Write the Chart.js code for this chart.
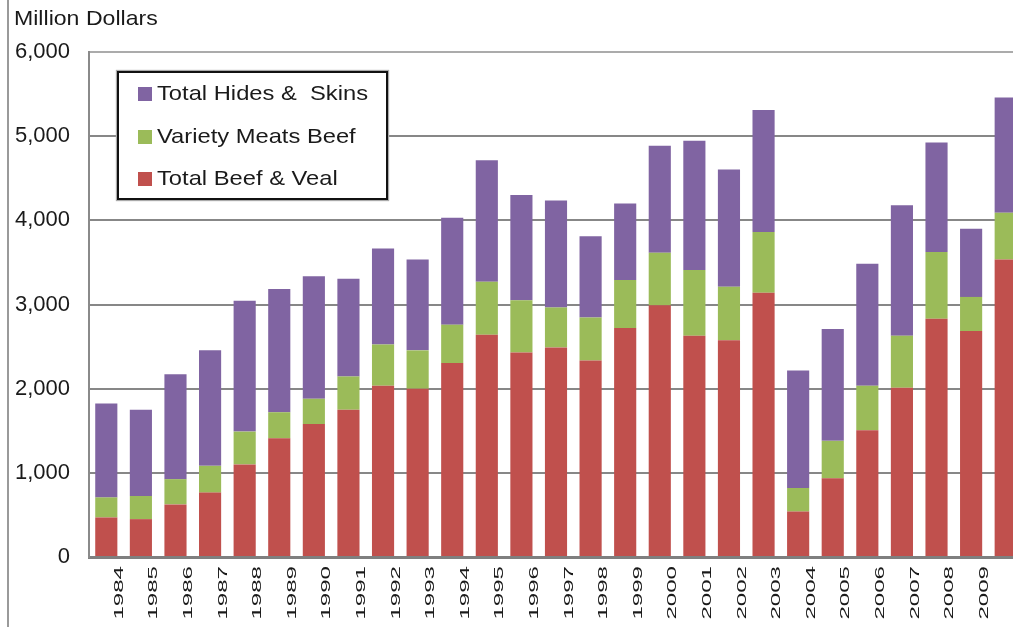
<!DOCTYPE html>
<html>
<head>
<meta charset="utf-8">
<script src="https://cdn.jsdelivr.net/npm/chart.js@4"></script>
<style>
  body { margin: 0; overflow: hidden; background: #fff; font-family: "Liberation Sans", Arial, sans-serif; }
  #wrap { position: absolute; left: 0; top: 0; width: 1035px; height: 627px; }
  #frame { position: absolute; left: 7px; top: 0; width: 2px; height: 627px; background: #9a9a9a; }
  #ytitle { position: absolute; left: 14px; top: 6px; font-size: 21px; color: #1a1a1a;
            transform: scaleX(1.1); transform-origin: left top; }
  #legend { position: absolute; left: 117px; top: 71px; width: 267px; height: 125px; background: #fff;
            border: 2px solid #111; box-shadow: 0 0 1px 1px #aaa; }
  .item { position: absolute; left: 19px; font-size: 21px; color: #1a1a1a; white-space: pre; line-height: 24px; }
  .item span.sw { display: inline-block; width: 14px; height: 14px; margin-right: 5px; vertical-align: -1px; }
  .item span.tx { display: inline-block; transform: scaleX(1.13); transform-origin: left center; }
</style>
</head>
<body>
<div id="wrap"><canvas id="myChart"></canvas></div>
<div id="frame"></div>
<div id="ytitle">Million Dollars</div>
<div id="legend"></div>
<script>
// 연도 (x축)
const years = ['1984','1985','1986','1987','1988','1989','1990','1991','1992','1993','1994','1995','1996',
               '1997','1998','1999','2000','2001','2002','2003','2004','2005','2006','2007','2008','2009','2010'];

// 시리즈 값 (Million Dollars)
const beefVeal = [470, 450, 625, 765, 1100, 1410, 1580, 1750, 2035, 2000, 2305, 2640, 2430,
                  2490, 2335, 2720, 2990, 2630, 2575, 3140, 540, 935, 1505, 2010, 2830, 2685, 3535];
const varietyMeats = [238, 275, 300, 318, 390, 310, 300, 395, 490, 455, 455, 630, 620,
                      475, 510, 570, 625, 780, 635, 720, 280, 445, 530, 620, 795, 405, 555];
const hidesSkins = [1115, 1025, 1245, 1373, 1555, 1465, 1455, 1160, 1140, 1080, 1270, 1445, 1250,
                    1270, 965, 910, 1270, 1535, 1395, 1450, 1395, 1330, 1450, 1550, 1300, 810, 1370];

const yTicks = [0, 1000, 2000, 3000, 4000, 5000, 6000];

const datasets = [
    { label: 'Total Beef & Veal', data: beefVeal, backgroundColor: '#C0504D' },
    { label: 'Variety Meats Beef', data: varietyMeats, backgroundColor: '#9BBB59' },
    { label: 'Total Hides &  Skins', data: hidesSkins, backgroundColor: '#8064A2' }
];

// 범례 (위에서부터 역순)
const legend = document.getElementById('legend');
datasets.slice().reverse().forEach(function(ds, i) {
    const div = document.createElement('div');
    div.className = 'item';
    div.style.top = (8 + i * 42.5) + 'px';
    div.innerHTML = '<span class="sw" style="background:' + ds.backgroundColor + '"></span>';
    const tx = document.createElement('span');
    tx.className = 'tx';
    tx.textContent = ds.label;
    div.appendChild(tx);
    legend.appendChild(div);
});

// 세로로 늘어난 x축 라벨
const stretchedTicks = {
    id: 'stretchedTicks',
    afterDraw: function(chart) {
        const ctx = chart.ctx;
        const xs = chart.scales.x;
        ctx.save();
        ctx.font = '13px "Liberation Sans", Arial';
        ctx.fillStyle = '#1a1a1a';
        chart.data.labels.forEach(function(lab, i) {
            ctx.save();
            ctx.translate(xs.getPixelForTick(i) + 13, chart.chartArea.bottom + 9);
            ctx.rotate(-Math.PI / 2);
            ctx.scale(1.85, 1);
            ctx.textAlign = 'right';
            ctx.textBaseline = 'middle';
            ctx.fillText(lab, 0, 0);
            ctx.restore();
        });
        ctx.restore();
    }
};

new Chart(document.getElementById('myChart'), {
    type: 'bar',
    data: { labels: years, datasets: datasets },
    plugins: [stretchedTicks],
    options: {
        responsive: true,
        maintainAspectRatio: false,
        animation: false,
        layout: { padding: { top: 52, right: 12, bottom: 70, left: 0 } },
        datasets: { bar: { categoryPercentage: 1, barPercentage: 0.64 } },
        plugins: { legend: { display: false }, tooltip: { enabled: false } },
        scales: {
            x: {
                stacked: true,
                grid: { display: false },
                border: { color: '#7f7f7f', width: 3 },
                ticks: { display: false },
                afterFit: function(s) { s.height = 0; }
            },
            y: {
                stacked: true,
                min: yTicks[0],
                max: yTicks[yTicks.length - 1],
                afterBuildTicks: function(s) { s.ticks = yTicks.map(v => ({ value: v })); },
                afterFit: function(s) { s.width = 89; },
                grid: {
                    drawTicks: false,
                    lineWidth: 2,
                    color: function(c) { return c.tick && c.tick.value === 6000 ? '#ababab' : '#878787'; }
                },
                border: { color: '#8a8a8a', width: 2 },
                ticks: {
                    padding: 19,
                    color: '#1a1a1a',
                    font: { family: '"Liberation Sans", Arial', size: 22 }
                }
            }
        }
    }
});
</script>
</body>
</html>
